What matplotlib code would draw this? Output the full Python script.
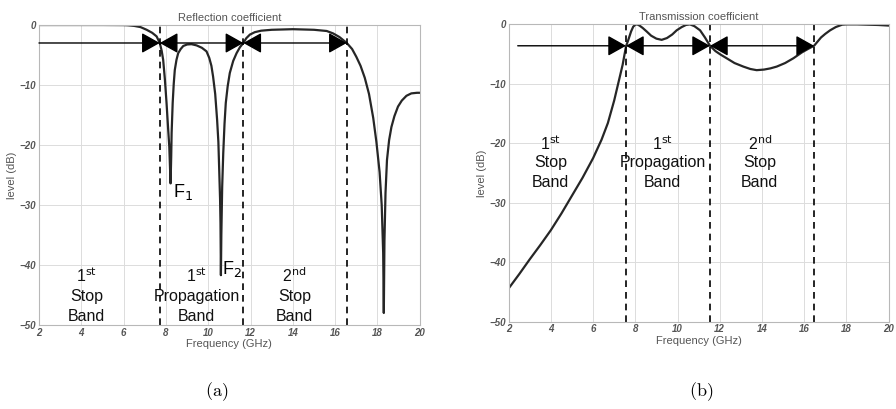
import matplotlib.pyplot as plt
import numpy as np

# reflection coefficient (a)
refl_f = [2.0, 5.0, 6.0, 6.2, 6.5, 6.8, 7.09, 7.35, 7.56, 7.71, 7.8, 7.87, 7.95, 8.03,
          8.1, 8.16, 8.22, 8.25, 8.27, 8.32, 8.37, 8.42, 8.5, 8.58, 8.7, 8.82, 9.0,
          9.21, 9.45, 9.7, 9.92, 10.05, 10.15, 10.23, 10.33, 10.42, 10.48, 10.52,
          10.56, 10.58, 10.6, 10.62, 10.66, 10.71, 10.77, 10.83, 10.92, 11.02, 11.18,
          11.34, 11.5, 11.66, 11.8, 11.97, 12.2, 12.5, 13.0, 14.0, 15.0, 15.6, 15.9,
          16.2, 16.55, 16.8, 17.0, 17.2, 17.4, 17.6, 17.8, 17.95, 18.1, 18.2, 18.27,
          18.3, 18.33, 18.38, 18.45, 18.55, 18.66, 18.8, 18.97, 19.15, 19.37, 19.6,
          19.87, 20.0]
refl_db = [0.0, 0.0, -0.02, -0.05, -0.15, -0.35, -0.8, -1.3, -1.9, -3.0, -4.3, -5.8,
           -9.0, -13.0, -17.0, -20.3, -26.4, -22.0, -18.0, -13.0, -9.8, -7.5, -5.8,
           -4.7, -4.0, -3.5, -3.25, -3.2, -3.4, -3.8, -4.4, -5.5, -6.8, -8.6, -11.5,
           -15.8, -19.5, -24.2, -29.0, -33.0, -41.7, -35.0, -27.0, -21.4, -16.5, -13.0,
           -10.2, -8.0, -6.0, -4.7, -3.7, -3.0, -2.2, -1.6, -1.2, -0.95, -0.8, -0.7,
           -0.8, -1.0, -1.4, -2.0, -3.0, -4.0, -5.3, -6.8, -8.8, -11.5, -15.5, -19.5,
           -24.5, -30.0, -38.0, -48.0, -36.0, -28.0, -22.5, -19.2, -17.0, -15.2, -13.6,
           -12.6, -11.8, -11.4, -11.3, -11.3]

# transmission coefficient (b)
trans_f = [2.0, 2.5, 3.0, 3.5, 4.0, 4.5, 5.0, 5.5, 6.0, 6.4, 6.7, 7.0, 7.2, 7.4, 7.56,
           7.67, 7.8, 7.9, 8.0, 8.09, 8.2, 8.35, 8.54, 8.75, 9.0, 9.25, 9.5, 9.75,
           9.96, 10.2, 10.4, 10.59, 10.8, 11.07, 11.3, 11.54, 11.8, 12.05, 12.33, 12.7,
           13.12, 13.45, 13.75, 14.1, 14.4, 14.7, 15.1, 15.49, 15.9, 16.2, 16.47, 16.8,
           17.0, 17.23, 17.5, 17.8, 18.0, 18.5, 19.0, 19.5, 20.0]
trans_db = [-44.4, -42.0, -39.5, -37.1, -34.6, -31.8, -28.8, -25.8, -22.5, -19.4, -16.6,
            -12.8, -9.8, -6.8, -3.7, -2.6, -1.2, -0.4, -0.05, 0.0, -0.2, -0.6, -1.2,
            -1.9, -2.4, -2.6, -2.3, -1.7, -1.0, -0.45, -0.1, 0.0, -0.3, -1.0, -2.2,
            -3.6, -4.5, -5.1, -5.7, -6.5, -7.1, -7.5, -7.7, -7.6, -7.4, -7.1, -6.5,
            -5.7, -4.7, -4.1, -3.6, -2.2, -1.6, -1.0, -0.45, -0.05, 0.0, 0.0, -0.05,
            -0.1, -0.2]

refl_edges = [7.71, 11.66, 16.55]
trans_edges = [7.56, 11.54, 16.47]
refl_arrow_db = -3.0
trans_arrow_db = -3.6
trans_arrow_start = 2.43

band_labels = [(r'1$^{\rm st}$', 'Stop', 'Band'),
               (r'1$^{\rm st}$', 'Propagation', 'Band'),
               (r'2$^{\rm nd}$', 'Stop', 'Band')]
refl_label_x = [4.25, 9.45, 14.07]
refl_label_y = [-41.7, -45.3, -48.6]
trans_label_x = [4.0, 9.3, 13.9]
trans_label_y = [-20.0, -23.3, -26.6]

plt.rcParams['font.family'] = ['Liberation Sans', 'DejaVu Sans']

fig = plt.figure(figsize=(8.96, 4.09), dpi=100)
ax1 = fig.add_axes([0.0435, 0.2054, 0.425, 0.7335])
ax2 = fig.add_axes([0.5677, 0.2134, 0.424, 0.727])

curve_col = '#262626'
head = '-|>,head_length=0.75,head_width=0.42'
dhead = '<|-|>,head_length=0.75,head_width=0.42'


def band_arrows(ax, start, edges, y):
    ax.annotate('', xy=(edges[0], y), xytext=(start, y),
                arrowprops=dict(arrowstyle=head, color='black', lw=1.0,
                                shrinkA=0, shrinkB=0, mutation_scale=15))
    for a, b in zip(edges[:-1], edges[1:]):
        ax.annotate('', xy=(b, y), xytext=(a, y),
                    arrowprops=dict(arrowstyle=dhead, color='black', lw=1.0,
                                    shrinkA=0, shrinkB=0, mutation_scale=15))


def setup(ax, title):
    ax.set_xlim(2, 20)
    ax.set_ylim(-50, 0)
    ax.set_xticks(np.arange(2, 21, 2))
    ax.set_yticks([-50, -40, -30, -20, -10, 0])
    ax.grid(True, color='#dcdcdc', lw=0.7)
    ax.set_axisbelow(True)
    for s in ax.spines.values():
        s.set_color('#b8b8b8')
        s.set_linewidth(0.8)
    ax.tick_params(length=0, labelsize=7, colors='#555555', pad=2)
    for lab in ax.get_xticklabels() + ax.get_yticklabels():
        lab.set_fontstyle('italic')
        lab.set_fontweight('bold')
    ax.set_title(title, fontsize=8, color='#555555', pad=3)
    ax.set_xlabel('Frequency (GHz)', fontsize=8, color='#555555', labelpad=1)
    ax.set_ylabel('level (dB)', fontsize=8, color='#555555', labelpad=2)


# (a) reflection
setup(ax1, 'Reflection coefficient')
ax1.plot(refl_f, refl_db, color=curve_col, lw=1.6)
for e in refl_edges:
    ax1.axvline(e, color='black', lw=1.2, ls=(0, (4, 3)))
band_arrows(ax1, 2.0, refl_edges, refl_arrow_db)
for x, lines in zip(refl_label_x, band_labels):
    for y, t in zip(refl_label_y, lines):
        ax1.text(x, y, t, ha='center', va='center', fontsize=11.5, color='#111111')
ax1.text(8.33, -27.8, r'F$_1$', fontsize=13, ha='left', va='center')
ax1.text(10.65, -40.6, r'F$_2$', fontsize=13, ha='left', va='center')

# (b) transmission
setup(ax2, 'Transmission coefficient')
ax2.plot(trans_f, trans_db, color=curve_col, lw=1.6)
for e in trans_edges:
    ax2.axvline(e, color='black', lw=1.2, ls=(0, (4, 3)))
band_arrows(ax2, trans_arrow_start, trans_edges, trans_arrow_db)
for x, lines in zip(trans_label_x, band_labels):
    for y, t in zip(trans_label_y, lines):
        ax2.text(x, y, t, ha='center', va='center', fontsize=11.5, color='#111111')

fig.text(0.242, 0.042, r'$\mathrm{(a)}$', ha='center', va='center', fontsize=13,
         math_fontfamily='cm')
fig.text(0.782, 0.042, r'$\mathrm{(b)}$', ha='center', va='center', fontsize=13,
         math_fontfamily='cm')

fig.savefig('out.png', dpi=100)
